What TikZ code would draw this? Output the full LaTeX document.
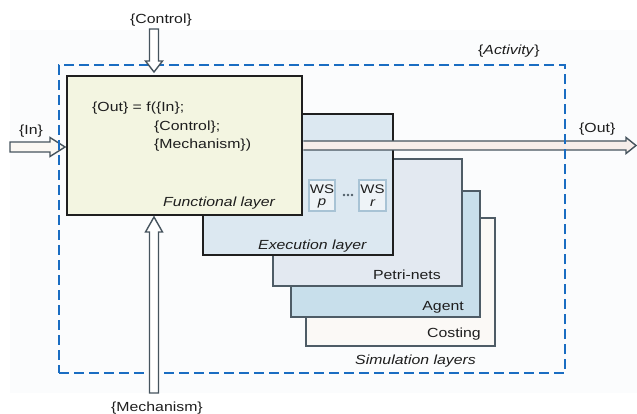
\documentclass[tikz,border=0pt]{standalone}
\usepackage{fontspec}
\setmainfont[FakeStretch=1.2]{Liberation Sans}
\usetikzlibrary{calc}
\definecolor{bgcol}{HTML}{FBFCFD}
\definecolor{dashblue}{HTML}{1A6DC2}
\definecolor{funcfill}{HTML}{F3F5E1}
\definecolor{execfill}{HTML}{DCE8F1}
\definecolor{petrifill}{HTML}{E3E9F1}
\definecolor{agentfill}{HTML}{C8DFEB}
\definecolor{costfill}{HTML}{FBF9F6}
\definecolor{layerline}{HTML}{4E5C66}
\definecolor{arrline}{HTML}{46545E}
\definecolor{wsline}{HTML}{A8C3D5}
\definecolor{wsfill}{HTML}{EEF3F7}
\definecolor{txt}{HTML}{1E1E1E}
\definecolor{outfill}{HTML}{F7EEEA}
\definecolor{infill}{HTML}{FBF8F3}
\begin{document}
\begin{tikzpicture}[x=1pt,y=-1pt,
  font=\fontsize{13.2}{15}\selectfont,
  lbl/.style={inner sep=0pt, text=txt},
  mainbox/.style={draw=black!88, line width=2.8pt, inner sep=0pt},
  simbox/.style={draw=layerline, line width=2pt, inner sep=0pt},
  wsbox/.style={draw=wsline, fill=wsfill, line width=1.1pt, inner sep=0pt, minimum width=26, minimum height=31},
  wsfont/.style={font=\fontsize{12.5}{13}\selectfont},
  hollow/.style={draw=arrline, line width=1.4pt, line join=miter}
]
\useasboundingbox (0,0) rectangle (637,414);
\fill[bgcol] (10,30) rectangle (637,393);
% simulation layers
\node[simbox, fill=costfill, minimum width=189, minimum height=128] (cost) at (400.5,282) {};
\node[simbox, fill=agentfill, minimum width=189, minimum height=126] (agent) at (385.5,254) {};
\node[simbox, fill=petrifill, minimum width=189, minimum height=127] (petri) at (367.5,222.5) {};
% execution layer
\node[mainbox, fill=execfill, minimum width=190, minimum height=141] (exec) at (298,184.5) {};
\node[wsbox] (wsp) at (322,195.5) {};
\node[wsbox, minimum width=27] (wsr) at (372.5,195.5) {};
\node[lbl, wsfont] (wsp1) at (322,189.5) {WS};
\node[lbl, wsfont, font=\fontsize{12.5}{13}\selectfont\itshape] (wsp2) at (322,203) {p};
\node[lbl, wsfont] (wsr1) at (372.5,189.5) {WS};
\node[lbl, wsfont, font=\fontsize{12.5}{13}\selectfont\itshape] (wsr2) at (372.5,203) {r};
\fill[layerline] (344,195) circle (1.4) (348,195) circle (1.4) (352,195) circle (1.4);
% functional layer
\node[mainbox, fill=funcfill, minimum width=235, minimum height=139] (func) at (184.5,145.5) {};
% labels in layers
\node[lbl, anchor=base west] (f1) at (92,112) {\{Out\} = f(\{In\};};
\node[lbl, anchor=base west] (f2) at (154,130.5) {\{Control\};};
\node[lbl, anchor=base west] (f3) at (154,149) {\{Mechanism\})};
\node[lbl, anchor=base west, font=\fontsize{13.2}{15}\selectfont\itshape] (funclbl) at (163,207) {Functional layer};
\node[lbl, anchor=base west, font=\fontsize{13.2}{15}\selectfont\itshape] (execlbl) at (258,249) {Execution layer};
\node[lbl, anchor=base east] (petrilbl) at (441,279) {Petri-nets};
\node[lbl, anchor=base east] (agentlbl) at (464,310.5) {Agent};
\node[lbl, anchor=base east] (costlbl) at (481,337.5) {Costing};
\node[lbl, anchor=base west, font=\fontsize{13.2}{15}\selectfont\itshape] (simlbl) at (355,364) {Simulation layers};
% outer labels
\node[lbl, anchor=base west] (ctrllbl) at (130,24) {\{Control\}};
\node[lbl, anchor=base west] (inlbl) at (19,135) {\{In\}};
\node[lbl, anchor=base west] (outlbl) at (579,133) {\{Out\}};
\node[lbl, anchor=base west] (actlbl) at (478,55) {\{\textit{Activity}\}};
\node[lbl, anchor=base west] (mechlbl) at (111,411.5) {\{Mechanism\}};
% in and out arrows
\coordinate (os) at (func.east);
\coordinate (ot) at (636,145.5);
\draw[hollow, fill=outfill] ($(os)+(0,-4.5)$) -- ($(ot)+(-10,-4.5)$) -- ($(ot)+(-10,-8)$) -- (ot) -- ($(ot)+(-10,8)$) -- ($(ot)+(-10,4.5)$) -- ($(os)+(0,4.5)$);
\coordinate (is) at (10,147);
\coordinate (it) at (65,147);
\draw[hollow, fill=infill] ($(is)+(0,-5)$) -- ($(it)+(-15,-5)$) -- ($(it)+(-15,-9.5)$) -- (it) -- ($(it)+(-15,9.5)$) -- ($(it)+(-15,5)$) -- ($(is)+(0,5)$) -- cycle;
% activity boundary
\node[draw=dashblue, line width=2.8pt, dash pattern=on 10pt off 5pt, minimum width=506, minimum height=308, inner sep=0pt] (act) at (312,219) {};
% control and mechanism arrows
\coordinate (cs) at (154,29);
\coordinate (ct) at (154,72);
\draw[hollow, fill=white] ($(cs)+(-4.5,0)$) -- ($(ct)+(-4.5,-11)$) -- ($(ct)+(-8.5,-11)$) -- (ct) -- ($(ct)+(8.5,-11)$) -- ($(ct)+(4.5,-11)$) -- ($(cs)+(4.5,0)$) -- cycle;
\coordinate (ms) at (154,393);
\coordinate (mt) at (154,217);
\draw[hollow, fill=white] ($(ms)+(-4.5,0)$) -- ($(mt)+(-4.5,15)$) -- ($(mt)+(-8.5,15)$) -- (mt) -- ($(mt)+(8.5,15)$) -- ($(mt)+(4.5,15)$) -- ($(ms)+(4.5,0)$) -- cycle;
\end{tikzpicture}
\end{document}
